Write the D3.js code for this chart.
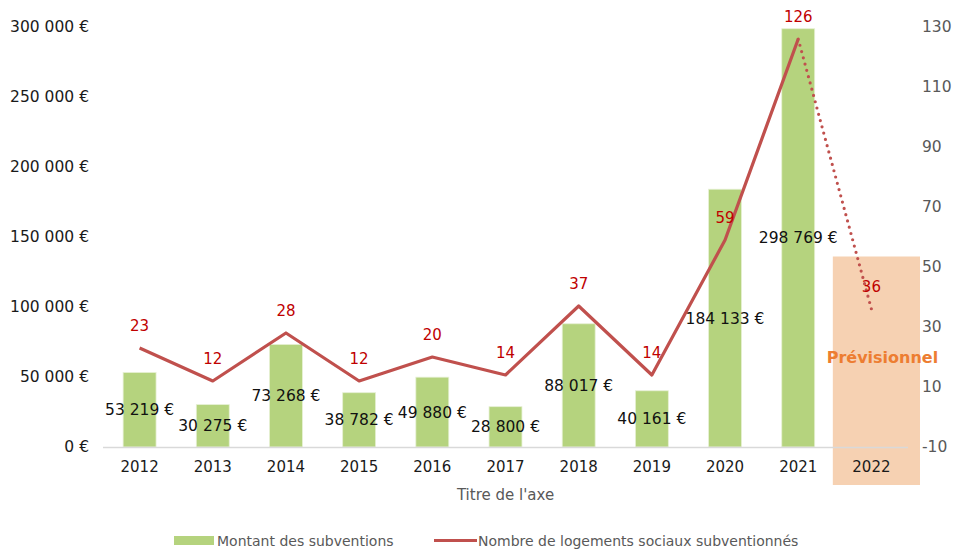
<!DOCTYPE html>
<html><head><meta charset="utf-8">
<script src="https://cdn.jsdelivr.net/npm/d3@7"></script>
<style>body{margin:0;background:#fff}svg{display:block}</style>
</head><body>
<svg id="c" width="953" height="552"></svg>
<script>
const years = ["2012","2013","2014","2015","2016","2017","2018","2019","2020","2021","2022"];
const amounts = [53219,30275,73268,38782,49880,28800,88017,40161,184133,298769,null];
const housing = [23,12,28,12,20,14,37,14,59,126,36];
const leftTicks = [0,50000,100000,150000,200000,250000,300000];
const rightTicks = [-10,10,30,50,70,90,110,130];
const seriesNames = ["Montant des subventions","Nombre de logements sociaux subventionnés"];
const axisTitle = "Titre de l'axe";
const forecastLabel = "Prévisionnel";

const FONT = "DejaVu Sans";
const svg = d3.select("#c");
const x = d3.scaleBand().domain(years).range([103,908]).paddingInner(0.55).paddingOuter(0.275);
const xb = d3.scaleBand().domain(years).range([103,908]);
const yL = d3.scaleLinear().domain([0,300000]).range([447,27]);
const yR = d3.scaleLinear().domain([-10,130]).range([447,27]);
const fmt = v => d3.format(",")(v).replace(/,/g," ") + " €";

// forecast box
svg.append("rect").attr("x", xb("2022")-2).attr("y", yR(53.5))
  .attr("width", xb.bandwidth()+14).attr("height", 485 - yR(53.5))
  .attr("fill","#f6d1b2");

// bars
svg.append("g").selectAll("rect").data(years.map((y,i)=>({y,v:amounts[i]})).filter(d=>d.v!=null))
  .join("rect").attr("x",d=>x(d.y)).attr("width",x.bandwidth())
  .attr("y",d=>yL(d.v)).attr("height",d=>yL(0)-yL(d.v))
  .attr("fill","#b5d37e").attr("stroke","#e6f0d4").attr("stroke-width",0.8);

// baseline
svg.append("line").attr("x1",103).attr("x2",908).attr("y1",447.5).attr("y2",447.5)
  .attr("stroke","#d9d9d9").attr("stroke-width",1.5);

// left axis
const gl = svg.append("g").attr("transform","translate(89,0)")
  .call(d3.axisLeft(yL).tickValues(leftTicks).tickFormat(fmt).tickSize(0).tickPadding(0));
gl.select(".domain").remove();
gl.selectAll("text").attr("font-family",FONT).attr("font-size",15.5).attr("fill","#1a1a1a");

// right axis
const gr = svg.append("g").attr("transform","translate(922,0)")
  .call(d3.axisRight(yR).tickValues(rightTicks).tickFormat(d=>String(d)).tickSize(0).tickPadding(0));
gr.select(".domain").remove();
gr.selectAll("text").attr("font-family",FONT).attr("font-size",15.5).attr("fill","#595959");

// x axis
const gx = svg.append("g").attr("transform","translate(0,461)")
  .call(d3.axisBottom(xb).tickSize(0).tickPadding(0));
gx.select(".domain").remove();
gx.selectAll("text").attr("font-family",FONT).attr("font-size",15).attr("fill","#1a1a1a").attr("dy","0.71em");

svg.append("text").attr("x",(103+908)/2).attr("y",500).attr("text-anchor","middle")
  .attr("font-family",FONT).attr("font-size",15).attr("fill","#595959").text(axisTitle);

// line
const cx = d => xb(d)+xb.bandwidth()/2;
const pts = years.map((y,i)=>({y,v:housing[i]}));
const line = d3.line().x(d=>cx(d.y)).y(d=>yR(d.v));
svg.append("path").attr("d",line(pts.slice(0,10))).attr("fill","none")
  .attr("stroke","#c0504d").attr("stroke-width",3.2).attr("stroke-linejoin","round");
svg.append("path").attr("d",line(pts.slice(9))).attr("fill","none")
  .attr("stroke","#c0504d").attr("stroke-width",3.2).attr("stroke-dasharray","0 6.5").attr("stroke-linecap","round");

// bar labels
svg.append("g").selectAll("text").data(years.map((y,i)=>({y,v:amounts[i]})).filter(d=>d.v!=null))
  .join("text").attr("x",d=>cx(d.y)).attr("y",d=>(yL(d.v)+yL(0))/2).attr("dy","0.35em")
  .attr("text-anchor","middle").attr("font-family",FONT).attr("font-size",15.5).attr("fill","#111")
  .text(d=>fmt(d.v));

// line labels
svg.append("g").selectAll("text").data(pts)
  .join("text").attr("x",d=>cx(d.y)).attr("y",d=>yR(d.v)-22).attr("dy","0.35em")
  .attr("text-anchor","middle").attr("font-family",FONT).attr("font-size",15).attr("fill","#c00000")
  .text(d=>d.v);

// forecast label
svg.append("text").attr("x",cx("2022")+11).attr("y",357).attr("dy","0.35em").attr("text-anchor","middle")
  .attr("font-family",FONT).attr("font-weight","bold").attr("font-size",16).attr("fill","#ed7d31")
  .text(forecastLabel);

// legend
const lg = svg.append("g");
lg.append("rect").attr("x",174).attr("y",536).attr("width",40).attr("height",9).attr("fill","#b5d37e");
lg.append("text").attr("x",217).attr("y",541).attr("dy","0.35em").attr("font-family",FONT).attr("font-size",14).attr("fill","#595959").text(seriesNames[0]);
lg.append("line").attr("x1",434).attr("x2",477).attr("y1",540.5).attr("y2",540.5).attr("stroke","#c0504d").attr("stroke-width",3.2);
lg.append("text").attr("x",478).attr("y",541).attr("dy","0.35em").attr("font-family",FONT).attr("font-size",14).attr("fill","#595959").text(seriesNames[1]);
</script>
</body></html>
